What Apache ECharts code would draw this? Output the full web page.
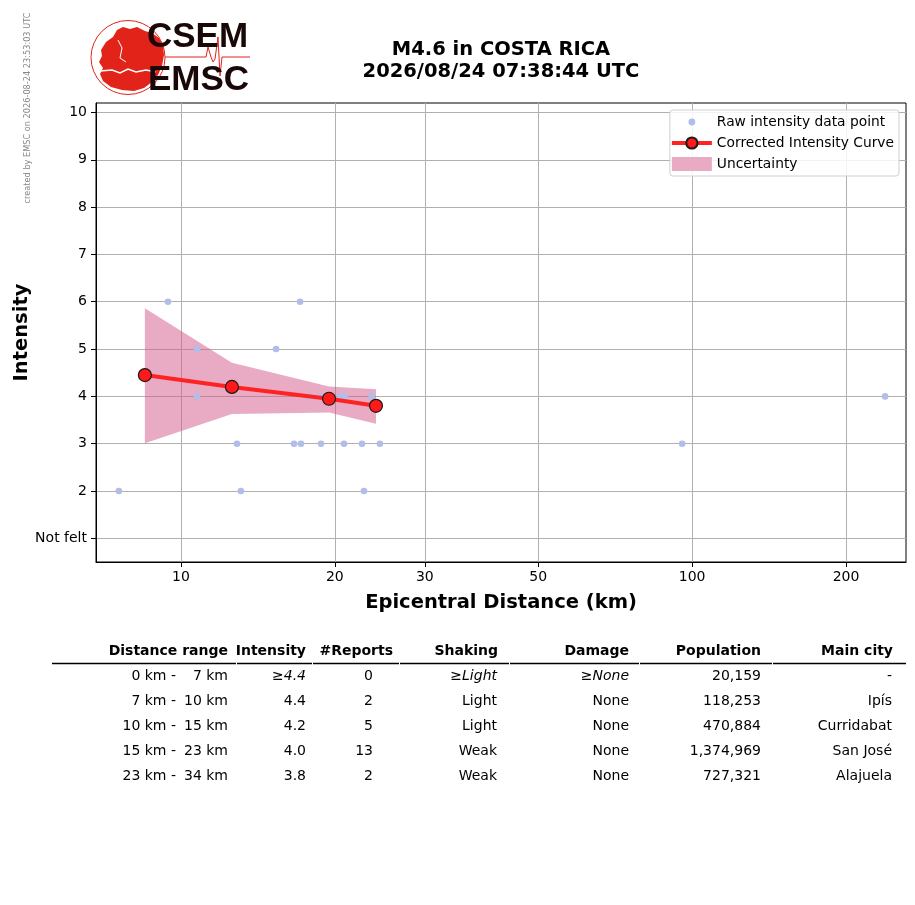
<!DOCTYPE html>
<html><head><meta charset="utf-8">
<script src="https://cdn.jsdelivr.net/npm/echarts@6/dist/echarts.min.js"></script>
<style>html,body{margin:0;padding:0;background:#fff}#c{width:915px;height:905px}</style>
</head><body><div id="c"></div>
<script>
// ---------- data ----------
const titleLines = ['M4.6 in COSTA RICA', '2026/08/24 07:38:44 UTC'];
const sideNote = 'created by EMSC on 2026-08-24 23:53:03 UTC';
const xAxisName = 'Epicentral Distance (km)';
const yAxisName = 'Intensity';
const xTickLabels = [10, 20, 30, 50, 100, 200];
const xRange = [6.82, 262];
const yTickValues = [1, 2, 3, 4, 5, 6, 7, 8, 9, 10];
const yTickLabels = ['Not felt', '2', '3', '4', '5', '6', '7', '8', '9', '10'];
const yRange = [0.5, 10.2];

const rawDist = [7.56, 9.43, 10.75, 10.75, 12.87, 13.1, 15.35, 16.64, 17.1, 17.17, 17.8, 18.79, 18.79, 19.5, 20.48, 20.94, 20.84, 22.6, 22.8, 23.6, 24.5, 95.6, 238.5];
const rawInt  = [2,    6,    5,     4,     3,     2,    5,     3,     6,    3,     4,    3,     4,     4,    4,     4,     3,     3,    2,    4,    3,    3,    4];

const curveDist = [8.5, 12.58, 19.48, 24.07];
const curveInt  = [4.45, 4.2, 3.95, 3.8];
const bandUpper = [5.86, 4.71, 4.21, 4.15];
const bandLower = [3.01, 3.63, 3.66, 3.42];

const seriesNames = ['Raw intensity data point', 'Corrected Intensity Curve', 'Uncertainty'];

const tableHeaders = ['Distance range', 'Intensity', '#Reports', 'Shaking', 'Damage', 'Population', 'Main city'];
const rangeFrom = ['0 km -', '7 km -', '10 km -', '15 km -', '23 km -'];
const rangeTo = ['7 km', '10 km', '15 km', '23 km', '34 km'];
const tblIntensity = ['≥4.4', '4.4', '4.2', '4.0', '3.8'];
const tblReports = ['0', '2', '5', '13', '2'];
const tblShaking = ['≥Light', 'Light', 'Light', 'Weak', 'Weak'];
const tblDamage = ['≥None', 'None', 'None', 'None', 'None'];
const tblPopulation = ['20,159', '118,253', '470,884', '1,374,969', '727,321'];
const tblCity = ['-', 'Ipís', 'Curridabat', 'San José', 'Alajuela'];

// ---------- helpers ----------
const L = v => Math.log10(v);
const FONT = '"DejaVu Sans", sans-serif';
function txt(text, x, y, opt) {
  opt = opt || {};
  const size = opt.size || 14;
  const weight = opt.weight || 'normal';
  const st = opt.italic ? 'italic' : 'normal';
  return {
    type: 'text', x: x, y: y, rotation: opt.rotation || 0, z: 100, silent: true,
    style: {
      text: text, fill: opt.color || '#000',
      font: st + ' ' + weight + ' ' + size + 'px ' + (opt.family || FONT),
      align: opt.align || 'left', textAlign: opt.align || 'left',
      verticalAlign: 'middle', textVerticalAlign: 'middle'
    }
  };
}

const graphics = [];
// Title
graphics.push(txt(titleLines[0], 501, 50, {size: 19.5, weight: 'bold', align: 'center'}));
graphics.push(txt(titleLines[1], 501, 72, {size: 19.5, weight: 'bold', align: 'center'}));
// Side note
graphics.push(txt(sideNote, 28, 108, {size: 8.2, color: '#888', align: 'center', rotation: Math.PI / 2}));

// Logo
graphics.push({type: 'circle', shape: {cx: 128, cy: 57.5, r: 37}, z: 90, silent: true,
  style: {fill: 'none', stroke: '#e2231a', lineWidth: 1}});
graphics.push({type: 'polygon', z: 90, silent: true, shape: {points: [
  [101,50],[106,42],[113,37],[117,30],[123,27],[130,29],[137,27],[145,31],[152,33],[159,38],[163,45],
  [164,55],[162,66],[158,75],[152,82],[144,88],[134,91],[122,90],[111,87],[103,81],[100,74],[103,68],[99,62],[102,56]
]}, style: {fill: '#e2231a'}});
graphics.push({type: 'polyline', z: 91, silent: true, shape: {points: [
  [100,71],[112,70],[120,73],[128,69],[136,72],[146,70],[156,72]
]}, style: {stroke: '#fff', lineWidth: 1.5, fill: 'none'}});
graphics.push({type: 'polyline', z: 91, silent: true, shape: {points: [
  [118,40],[122,48],[120,58],[126,62]
]}, style: {stroke: '#fff', lineWidth: 1, fill: 'none'}});
graphics.push({type: 'polyline', z: 92, silent: true, shape: {points: [
  [165,57],[206,57],[208,47],[211,57],[213,62],[215,59],[218,37],[220,76],[222,57],[250,57]
]}, style: {stroke: '#e2231a', lineWidth: 1, fill: 'none'}});
graphics.push(txt('CSEM', 147, 37, {size: 35, weight: 'bold', color: '#1a0808', family: '"Liberation Sans", Arial, sans-serif'}));
graphics.push(txt('EMSC', 148, 80, {size: 35, weight: 'bold', color: '#1a0808', family: '"Liberation Sans", Arial, sans-serif'}));

// Table
const hdrRight = [228, 306, 393, 498, 629, 761, 893];
tableHeaders.forEach((h, i) => graphics.push(txt(h, hdrRight[i], 651, {weight: 'bold', align: 'right'})));
const segs = [[52, 236], [237, 312], [313, 399], [400, 509], [510, 639], [640, 772], [773, 906]];
segs.forEach(s => graphics.push({type: 'line', z: 100, silent: true, shape: {x1: s[0], y1: 663.5, x2: s[1], y2: 663.5},
  style: {stroke: '#000', lineWidth: 1.6}}));
for (let r = 0; r < rangeFrom.length; r++) {
  const y = 676 + r * 25;
  const it = r === 0;
  graphics.push(txt(rangeFrom[r], 176, y, {align: 'right'}));
  graphics.push(txt(rangeTo[r], 228, y, {align: 'right'}));
  graphics.push(txt(tblIntensity[r], 306, y, {align: 'right', italic: it}));
  graphics.push(txt(tblReports[r], 373, y, {align: 'right'}));
  graphics.push(txt(tblShaking[r], 497, y, {align: 'right', italic: it}));
  graphics.push(txt(tblDamage[r], 629, y, {align: 'right', italic: it}));
  graphics.push(txt(tblPopulation[r], 761, y, {align: 'right'}));
  graphics.push(txt(tblCity[r], 892, y, {align: 'right'}));
}

// ---------- chart ----------
const chart = echarts.init(document.getElementById('c'), null, {renderer: 'canvas'});
const xTickPos = xTickLabels.map(L);
const scatterIcon = 'path://M0,0L0,0ZM40,14L40,14ZM16.6,7A3.4,3.4,0,1,0,23.4,7A3.4,3.4,0,1,0,16.6,7Z';
const bandData = curveDist.map((d, i) => [L(d), bandUpper[i], bandLower[i]]);

chart.setOption({
  animation: false,
  backgroundColor: '#fff',
  textStyle: {fontFamily: FONT},
  grid: {left: 96, right: 9, top: 103, bottom: 343, containLabel: false, outerBoundsMode: 'none',
    show: true, borderColor: '#000', borderWidth: 1, backgroundColor: 'transparent'},
  legend: {
    orient: 'vertical', right: 16, top: 110,
    itemWidth: 40, itemHeight: 14, itemGap: 7,
    padding: [5, 5, 5, 0],
    backgroundColor: 'rgba(255,255,255,0.85)', borderColor: '#d0d0d0', borderWidth: 1, borderRadius: 3,
    textStyle: {fontSize: 13.8, color: '#000', fontFamily: FONT},
    data: [
      {name: seriesNames[0], icon: scatterIcon},
      {name: seriesNames[1], lineStyle: {width: 4, color: '#ff2222'}},
      {name: seriesNames[2], icon: 'rect'}
    ]
  },
  xAxis: {
    type: 'value', min: L(xRange[0]), max: L(xRange[1]),
    name: xAxisName, nameLocation: 'middle', nameGap: 31, nameMoveOverlap: false,
    nameTextStyle: {fontSize: 19.5, fontWeight: 'bold', color: '#000', fontFamily: FONT},
    axisLine: {show: true, lineStyle: {color: '#000', width: 1}},
    axisTick: {show: true, length: 5, lineStyle: {color: '#000'}, customValues: xTickPos},
    axisLabel: {customValues: xTickPos, margin: 8, fontSize: 14, color: '#000', fontFamily: FONT,
      formatter: v => String(Math.round(Math.pow(10, v)))},
    splitLine: {show: true, lineStyle: {color: '#b0b0b0', width: 1}}
  },
  yAxis: {
    type: 'value', min: yRange[0], max: yRange[1],
    name: yAxisName, nameLocation: 'middle', nameGap: 64, nameMoveOverlap: false,
    nameTextStyle: {fontSize: 19.5, fontWeight: 'bold', color: '#000', fontFamily: FONT},
    axisLine: {show: true, lineStyle: {color: '#000', width: 1}},
    axisTick: {show: true, length: 5, lineStyle: {color: '#000'}, customValues: yTickValues},
    axisLabel: {customValues: yTickValues, margin: 9, fontSize: 14, color: '#000', fontFamily: FONT,
      formatter: v => yTickLabels[yTickValues.indexOf(Math.round(v))]},
    splitLine: {show: true, lineStyle: {color: '#b0b0b0', width: 1}}
  },
  series: [
    {
      name: seriesNames[2], type: 'custom', z: 1, silent: true,
      itemStyle: {color: '#e9aac4'},
      data: [0],
      renderItem: function (params, api) {
        const pts = [];
        bandData.forEach(b => pts.push(api.coord([b[0], b[1]])));
        for (let i = bandData.length - 1; i >= 0; i--) pts.push(api.coord([bandData[i][0], bandData[i][2]]));
        return {type: 'polygon', shape: {points: pts}, style: {fill: 'rgba(212,85,136,0.5)'}};
      }
    },
    {
      name: seriesNames[0], type: 'scatter', z: 3, silent: true,
      data: rawDist.map((d, i) => [L(d), rawInt[i]]),
      symbol: 'circle', symbolSize: 6.6,
      itemStyle: {color: '#b0bee9', opacity: 1}
    },
    {
      name: seriesNames[1], type: 'line', z: 4, silent: true,
      data: curveDist.map((d, i) => [L(d), curveInt[i]]),
      symbol: 'circle', symbolSize: 13, showSymbol: true,
      lineStyle: {color: '#ff2222', width: 4},
      itemStyle: {color: '#ff1a1a', borderColor: '#1a1a1a', borderWidth: 1.2}
    }
  ],
  graphic: {elements: graphics}
});
</script>
</body></html>
